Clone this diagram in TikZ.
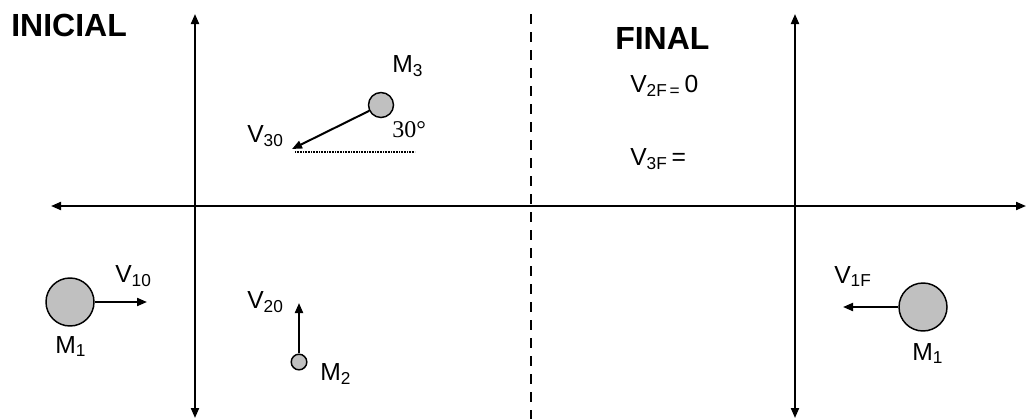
\documentclass[tikz,border=0pt]{standalone}
\usepackage{fontspec}
\setmainfont{Liberation Sans}
\newfontfamily\serifface{Liberation Serif}
\usetikzlibrary{arrows.meta}
\definecolor{ballgray}{RGB}{192,192,192}
\begin{document}
\begin{tikzpicture}[x=0.75pt,y=-0.75pt,
  axis/.style={line width=1.5pt,{Triangle[length=7.5pt,width=6pt]}-{Triangle[length=7.5pt,width=6pt]}},
  vec/.style={line width=1.5pt,-{Triangle[length=7.5pt,width=6pt]}},
  divider/.style={line width=1.5pt,dash pattern=on 7.5pt off 6pt},
  refline/.style={line width=0.8pt,dash pattern=on 0.6pt off 0.6pt},
  ball/.style={circle,draw,line width=1.1pt,fill=ballgray,inner sep=0pt},
  lbl/.style={font=\fontsize{18.5}{22}\selectfont,inner sep=0pt,anchor=base west},
  title/.style={font=\fontsize{24}{28}\selectfont\bfseries,inner sep=0pt,anchor=base west}]
\useasboundingbox (0,0) rectangle (1027,419);

% axes
\coordinate (hl) at (51,206);
\coordinate (hr) at (1026,206);
\coordinate (v1b) at (195,418);
\coordinate (v1t) at (195,14);
\coordinate (v2b) at (795,418);
\coordinate (v2t) at (795,14);
\coordinate (dt) at (531,14);
\coordinate (db) at (531,419);
\draw[axis] (hl) -- (hr);
\draw[axis] (v1b) -- (v1t);
\draw[axis] (v2b) -- (v2t);
\draw[divider] (dt) -- (db);

% titles
\node[title] (ini) at (11,36) {INICIAL};
\node[title] (fin) at (615,49) {FINAL};

% M3
\node[ball,minimum size=18.75pt] (m3) at (381,105) {};
\coordinate (v30tip) at (292,149);
\draw[vec] (m3) -- (v30tip);
\coordinate (rl1) at (295,152);
\coordinate (rl2) at (415,152);
\draw[refline] (rl1) -- (rl2);
\node[lbl] (m3l) at (392,72) {M\textsubscript{3}};
\node[lbl] (v30l) at (247,142) {V\textsubscript{30}};
\node[lbl,font=\fontsize{18}{20}\selectfont\serifface] (ang) at (392,137) {30°};

% final texts
\node[lbl] (v2f) at (630,92) {V\textsubscript{2F\,=}\,0};
\node[lbl] (v3f) at (630,165) {V\textsubscript{3F}\,=};

% M1 initial
\node[ball,minimum size=36pt] (m1) at (70,302) {};
\coordinate (v10tip) at (147,302);
\draw[vec] (m1) -- (v10tip);
\node[lbl] (v10l) at (115,282) {V\textsubscript{10}};
\node[lbl] (m1l) at (55,353) {M\textsubscript{1}};

% M2
\node[ball,minimum size=11.7pt] (m2) at (299,362) {};
\coordinate (v20tip) at (299,303);
\draw[vec] (m2) -- (v20tip);
\node[lbl] (v20l) at (247,308) {V\textsubscript{20}};
\node[lbl] (m2l) at (320,380) {M\textsubscript{2}};

% M1 final
\node[ball,minimum size=36pt] (m1f) at (923,307) {};
\coordinate (v1ftip) at (843,307);
\draw[vec] (m1f) -- (v1ftip);
\node[lbl] (v1fl) at (834,283) {V\textsubscript{1F}};
\node[lbl] (m1fl) at (912,360) {M\textsubscript{1}};
\end{tikzpicture}
\end{document}
